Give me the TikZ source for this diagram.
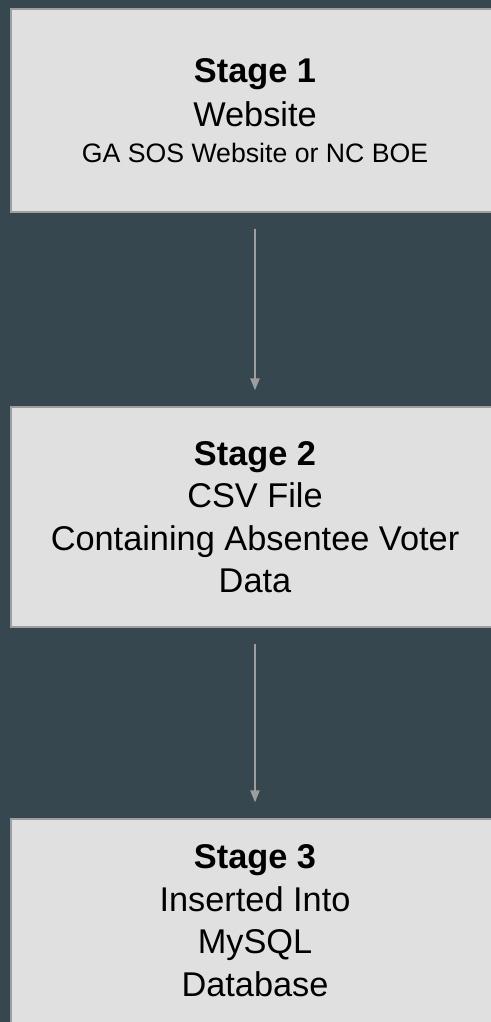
\documentclass[tikz,border=0pt]{standalone}
\usepackage{fontspec}
\setmainfont{Liberation Sans}
\usetikzlibrary{arrows.meta}

\definecolor{slatebg}{HTML}{37474F}
\definecolor{boxfill}{HTML}{E0E0E0}
\definecolor{boxline}{HTML}{9E9E9E}

\begin{document}
\begin{tikzpicture}[x=0.75pt, y=-0.75pt,
    stagebox/.style={rectangle, draw=boxline, line width=1.1pt, fill=boxfill, minimum width=366pt, inner sep=0pt, align=center, font=\fontsize{25.75pt}{31.8pt}\selectfont},
    flow/.style={-{Triangle[width=7pt,length=9pt]}, draw=boxline, line width=1.1pt, shorten <=12pt, shorten >=12pt}]
    % Background
    \useasboundingbox (0,0) rectangle (491,1022);
    \fill[slatebg] (0,0) rectangle (491,1022);

    % Nodes
    \node[stagebox, minimum height=152.25pt, text depth=-3.75pt] (stage1) at (255,110.5) {\textbf{Stage 1}\\[1.2pt]Website\\[-5.5pt]\fontsize{20pt}{26.5pt}\selectfont GA SOS Website or NC BOE};
    \node[stagebox, minimum height=165pt] (stage2) at (255,517) {\textbf{Stage 2}\\CSV File\\Containing Absentee Voter\\Data};
    \node[stagebox, minimum height=180pt, text depth=27.7pt] (stage3) at (255,939) {\textbf{Stage 3}\\Inserted Into\\MySQL\\Database};

    % Links
    \draw[flow] (stage1) -- (stage2);
    \draw[flow] (stage2) -- (stage3);
\end{tikzpicture}
\end{document}
